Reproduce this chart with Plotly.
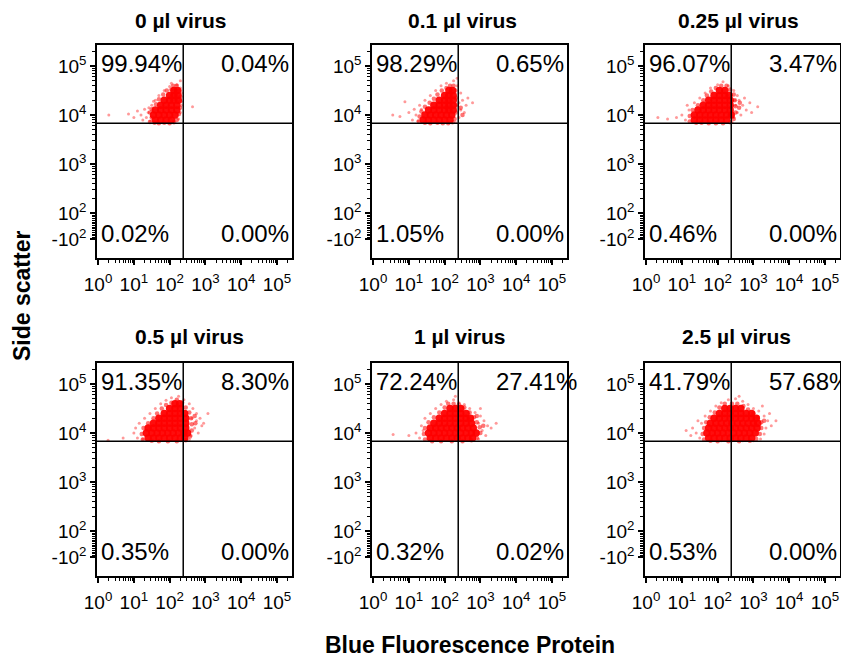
import plotly.graph_objects as go

# ---------------- data ----------------
PANEL_TITLES = ["0 µl virus", "0.1 µl virus", "0.25 µl virus",
                "0.5 µl virus", "1 µl virus", "2.5 µl virus"]

PCT_UL = ["99.94%", "98.29%", "96.07%", "91.35%", "72.24%", "41.79%"]
PCT_UR = ["0.04%", "0.65%", "3.47%", "8.30%", "27.41%", "57.68%"]
PCT_LL = ["0.02%", "1.05%", "0.46%", "0.35%", "0.32%", "0.53%"]
PCT_LR = ["0.00%", "0.00%", "0.00%", "0.00%", "0.02%", "0.00%"]

# quadrant gate (log10 units)
GATE_X_LOG = 2.38
GATE_Y_LOG = 3.83

X_TICK_EXP = [0, 1, 2, 3, 4, 5]
X_TICK_TEXT = ["10<sup>0</sup>", "10<sup>1</sup>", "10<sup>2</sup>",
               "10<sup>3</sup>", "10<sup>4</sup>", "10<sup>5</sup>"]
Y_TICK_EXP = [1.47, 2, 3, 4, 5]
Y_TICK_TEXT = ["-10<sup>2</sup>", "10<sup>2</sup>", "10<sup>3</sup>",
               "10<sup>4</sup>", "10<sup>5</sup>"]

# events: (log10 blue fluorescence, log10 side scatter)
P1_CORE = [(1.6, 3.9), (1.75, 3.9), (1.9, 3.9), (2.05, 3.9),
           (1.55, 4.0), (1.7, 4.0), (1.85, 4.0), (2.0, 4.0), (2.15, 4.0),
           (1.6, 4.1), (1.75, 4.1), (1.9, 4.1), (2.05, 4.1), (2.2, 4.1),
           (1.75, 4.2), (1.9, 4.2), (2.05, 4.2), (2.2, 4.2),
           (1.85, 4.3), (2.0, 4.3), (2.12, 4.3), (2.24, 4.3),
           (2.0, 4.4), (2.12, 4.4), (2.23, 4.4),
           (2.12, 4.5), (2.22, 4.5)]
P1_EDGE = [(1.45, 3.86), (1.5, 3.95), (1.45, 4.05), (1.5, 4.12), (1.62, 4.22),
           (1.7, 4.32), (1.82, 4.42), (1.92, 4.5), (2.05, 4.52), (2.1, 4.6),
           (2.2, 4.6), (2.28, 4.5), (2.3, 4.38), (2.3, 4.28), (2.29, 4.15),
           (2.26, 4.02), (2.2, 3.9), (2.12, 3.85), (2.0, 3.83), (1.85, 3.84),
           (1.7, 3.83), (1.58, 3.84)]
P1_HALO = [(1.35, 3.95), (1.4, 4.05), (1.3, 4.12), (1.45, 3.88), (1.5, 4.2),
           (1.6, 4.3), (1.7, 4.4), (1.85, 4.5), (2.0, 4.58), (2.2, 4.62),
           (2.3, 4.55), (2.33, 4.45), (2.33, 4.2), (2.3, 4.05), (2.25, 3.92),
           (2.1, 3.86), (1.95, 3.84), (1.8, 3.85), (1.65, 3.86), (1.2, 4.0),
           (1.1, 4.08), (0.85, 4.02), (0.3, 4.0), (1.25, 3.9), (2.05, 4.65),
           (2.3, 4.7), (2.64, 4.17), (1.55, 4.28), (1.42, 4.15), (1.0, 3.95)]

P2_CORE = [(1.4, 3.9), (1.55, 3.9), (1.7, 3.9), (1.85, 3.9), (2.0, 3.9), (2.15, 3.9),
           (1.45, 4.0), (1.6, 4.0), (1.75, 4.0), (1.9, 4.0), (2.05, 4.0), (2.2, 4.0),
           (1.55, 4.1), (1.7, 4.1), (1.85, 4.1), (2.0, 4.1), (2.12, 4.1), (2.24, 4.1),
           (1.7, 4.2), (1.85, 4.2), (2.0, 4.2), (2.12, 4.2), (2.24, 4.2),
           (1.85, 4.3), (2.0, 4.3), (2.12, 4.3), (2.24, 4.3),
           (2.0, 4.4), (2.12, 4.4), (2.24, 4.4),
           (2.12, 4.5), (2.22, 4.5)]
P2_EDGE = [(1.28, 3.87), (1.3, 3.97), (1.35, 4.07), (1.45, 4.17), (1.58, 4.25),
           (1.7, 4.33), (1.8, 4.42), (1.92, 4.5), (2.05, 4.55), (2.15, 4.6),
           (2.25, 4.6), (2.3, 4.5), (2.31, 4.35), (2.31, 4.2), (2.31, 4.05),
           (2.28, 3.92), (2.22, 3.85), (2.1, 3.83), (1.95, 3.83), (1.8, 3.84),
           (1.6, 3.83), (1.45, 3.84), (2.45, 4.15), (2.5, 4.0)]
P2_HALO = [(1.1, 3.9), (1.2, 4.0), (1.0, 4.05), (0.55, 4.0), (0.89, 4.27),
           (1.3, 4.2), (1.45, 4.3), (1.6, 4.4), (1.75, 4.5), (1.9, 4.6),
           (2.05, 4.65), (2.25, 4.7), (2.35, 4.6), (2.45, 4.45), (2.5, 4.3),
           (2.6, 4.2), (2.78, 4.25), (2.45, 4.1), (2.4, 3.95), (2.55, 4.05),
           (2.3, 3.85), (2.1, 3.85), (1.9, 3.84), (1.7, 3.85), (1.5, 3.85),
           (1.25, 3.88), (0.75, 3.97), (1.35, 4.12), (2.65, 4.35), (2.4, 4.25),
           (1.15, 4.12), (2.35, 4.75)]

P3_CORE = [(1.35, 3.9), (1.5, 3.9), (1.65, 3.9), (1.8, 3.9), (1.95, 3.9), (2.1, 3.9), (2.25, 3.9),
           (1.35, 4.0), (1.5, 4.0), (1.65, 4.0), (1.8, 4.0), (1.95, 4.0), (2.1, 4.0), (2.25, 4.0), (2.38, 4.0),
           (1.45, 4.1), (1.6, 4.1), (1.75, 4.1), (1.9, 4.1), (2.05, 4.1), (2.2, 4.1), (2.35, 4.1),
           (1.6, 4.2), (1.75, 4.2), (1.9, 4.2), (2.05, 4.2), (2.2, 4.2), (2.35, 4.2),
           (1.75, 4.3), (1.9, 4.3), (2.05, 4.3), (2.2, 4.3), (2.35, 4.3),
           (1.9, 4.4), (2.05, 4.4), (2.2, 4.4), (2.32, 4.4),
           (2.05, 4.5), (2.2, 4.5)]
P3_EDGE = [(1.22, 3.87), (1.22, 3.98), (1.3, 4.1), (1.45, 4.2), (1.6, 4.3),
           (1.7, 4.4), (1.82, 4.48), (1.95, 4.55), (2.1, 4.6), (2.25, 4.6),
           (2.35, 4.52), (2.45, 4.42), (2.48, 4.3), (2.5, 4.18), (2.5, 4.05),
           (2.45, 3.92), (2.35, 3.85), (2.15, 3.83), (1.95, 3.83), (1.75, 3.83),
           (1.55, 3.84), (1.4, 3.84), (2.6, 4.15), (2.62, 4.25)]
P3_HALO = [(1.1, 3.9), (1.0, 4.0), (0.85, 3.95), (0.33, 3.95), (0.6, 3.92),
           (1.2, 4.1), (1.35, 4.25), (1.5, 4.35), (1.65, 4.45), (1.8, 4.55),
           (2.0, 4.62), (2.15, 4.68), (2.3, 4.6), (2.45, 4.5), (2.55, 4.4),
           (2.6, 4.3), (2.7, 4.2), (2.8, 4.1), (3.12, 4.17), (2.9, 4.25),
           (2.5, 4.2), (2.55, 4.05), (2.45, 3.95), (2.65, 4.0), (2.4, 3.85),
           (2.2, 3.84), (2.0, 3.84), (1.75, 3.85), (1.5, 3.85), (1.3, 3.86),
           (2.75, 4.35), (2.48, 4.3), (2.95, 4.05), (1.15, 4.2)]

P4_CORE = [(1.4, 3.9), (1.55, 3.9), (1.7, 3.9), (1.85, 3.9), (2.0, 3.9), (2.15, 3.9), (2.3, 3.9), (2.42, 3.9),
           (1.35, 4.0), (1.5, 4.0), (1.65, 4.0), (1.8, 4.0), (1.95, 4.0), (2.1, 4.0), (2.25, 4.0), (2.4, 4.0), (2.5, 4.0),
           (1.4, 4.1), (1.55, 4.1), (1.7, 4.1), (1.85, 4.1), (2.0, 4.1), (2.15, 4.1), (2.3, 4.1), (2.45, 4.1),
           (1.55, 4.2), (1.7, 4.2), (1.85, 4.2), (2.0, 4.2), (2.15, 4.2), (2.3, 4.2), (2.45, 4.2),
           (1.7, 4.3), (1.85, 4.3), (2.0, 4.3), (2.15, 4.3), (2.3, 4.3), (2.45, 4.3),
           (1.85, 4.4), (2.0, 4.4), (2.15, 4.4), (2.3, 4.4), (2.42, 4.4),
           (2.0, 4.5), (2.15, 4.5), (2.3, 4.5),
           (2.15, 4.6), (2.28, 4.6)]
P4_EDGE = [(1.25, 3.87), (1.22, 3.98), (1.27, 4.1), (1.4, 4.2), (1.55, 4.3),
           (1.65, 4.4), (1.78, 4.5), (1.9, 4.57), (2.05, 4.62), (2.2, 4.68),
           (2.35, 4.62), (2.45, 4.52), (2.55, 4.42), (2.6, 4.3), (2.62, 4.18),
           (2.62, 4.05), (2.57, 3.93), (2.45, 3.85), (2.2, 3.83), (1.95, 3.83),
           (1.7, 3.83), (1.5, 3.84), (2.72, 4.2), (2.7, 4.35)]
P4_HALO = [(1.1, 3.9), (1.0, 4.0), (0.28, 3.85), (0.7, 3.9), (1.15, 4.2),
           (1.3, 4.3), (1.45, 4.4), (1.6, 4.5), (1.75, 4.6), (1.9, 4.67),
           (2.05, 4.72), (2.25, 4.75), (2.4, 4.68), (2.55, 4.6), (2.65, 4.5),
           (2.75, 4.4), (2.85, 4.3), (3.07, 4.4), (2.9, 4.15), (2.7, 4.1),
           (2.75, 4.25), (2.6, 3.95), (2.8, 4.0), (2.55, 3.87), (2.3, 3.84),
           (2.0, 3.84), (1.7, 3.84), (1.45, 3.85), (1.25, 3.88), (2.95, 4.2),
           (2.62, 4.3), (1.05, 4.1)]

P5_CORE = [(1.6, 3.9), (1.75, 3.9), (1.9, 3.9), (2.05, 3.9), (2.2, 3.9), (2.35, 3.9), (2.5, 3.9), (2.65, 3.9), (2.78, 3.9),
           (1.55, 4.0), (1.7, 4.0), (1.85, 4.0), (2.0, 4.0), (2.15, 4.0), (2.3, 4.0), (2.45, 4.0), (2.6, 4.0), (2.75, 4.0), (2.88, 4.0),
           (1.6, 4.1), (1.75, 4.1), (1.9, 4.1), (2.05, 4.1), (2.2, 4.1), (2.35, 4.1), (2.5, 4.1), (2.65, 4.1), (2.8, 4.1),
           (1.7, 4.2), (1.85, 4.2), (2.0, 4.2), (2.15, 4.2), (2.3, 4.2), (2.45, 4.2), (2.6, 4.2), (2.75, 4.2),
           (1.85, 4.3), (2.0, 4.3), (2.15, 4.3), (2.3, 4.3), (2.45, 4.3), (2.6, 4.3), (2.72, 4.3),
           (2.0, 4.4), (2.15, 4.4), (2.3, 4.4), (2.45, 4.4), (2.6, 4.4),
           (2.15, 4.5), (2.3, 4.5), (2.45, 4.5)]
P5_EDGE = [(1.45, 3.87), (1.42, 3.98), (1.45, 4.1), (1.55, 4.22), (1.7, 4.32),
           (1.85, 4.42), (2.0, 4.52), (2.1, 4.6), (2.25, 4.6), (2.4, 4.58),
           (2.55, 4.52), (2.7, 4.42), (2.82, 4.32), (2.9, 4.22), (2.98, 4.12),
           (3.0, 4.0), (2.9, 3.9), (2.75, 3.85), (2.5, 3.83), (2.2, 3.83),
           (1.9, 3.83), (1.65, 3.83), (3.08, 4.15), (2.9, 4.35)]
P5_HALO = [(1.3, 3.9), (1.2, 4.0), (0.56, 3.97), (1.0, 3.95), (1.35, 4.15),
           (1.45, 4.3), (1.6, 4.4), (1.75, 4.5), (1.9, 4.58), (2.05, 4.65),
           (2.25, 4.68), (2.4, 4.62), (2.55, 4.58), (2.7, 4.5), (2.85, 4.42),
           (3.0, 4.35), (3.1, 4.25), (3.2, 4.15), (3.44, 4.2), (3.05, 4.05),
           (3.15, 3.95), (2.95, 3.88), (2.75, 3.85), (2.5, 3.84), (2.2, 3.84),
           (1.9, 3.84), (1.6, 3.85), (3.3, 4.1), (2.95, 4.2), (3.0, 4.5),
           (1.4, 4.05), (2.3, 4.75)]

P6_CORE = [(1.75, 3.9), (1.9, 3.9), (2.05, 3.9), (2.2, 3.9), (2.35, 3.9), (2.5, 3.9), (2.65, 3.9), (2.8, 3.9), (2.95, 3.9),
           (1.7, 4.0), (1.85, 4.0), (2.0, 4.0), (2.15, 4.0), (2.3, 4.0), (2.45, 4.0), (2.6, 4.0), (2.75, 4.0), (2.9, 4.0), (3.05, 4.0),
           (1.75, 4.1), (1.9, 4.1), (2.05, 4.1), (2.2, 4.1), (2.35, 4.1), (2.5, 4.1), (2.65, 4.1), (2.8, 4.1), (2.95, 4.1), (3.1, 4.1),
           (1.8, 4.2), (1.95, 4.2), (2.1, 4.2), (2.25, 4.2), (2.4, 4.2), (2.55, 4.2), (2.7, 4.2), (2.85, 4.2), (3.0, 4.2), (3.12, 4.2),
           (1.9, 4.3), (2.05, 4.3), (2.2, 4.3), (2.35, 4.3), (2.5, 4.3), (2.65, 4.3), (2.8, 4.3), (2.95, 4.3), (3.08, 4.3),
           (2.05, 4.4), (2.2, 4.4), (2.35, 4.4), (2.5, 4.4), (2.65, 4.4), (2.8, 4.4), (2.95, 4.4),
           (2.2, 4.5), (2.35, 4.5), (2.5, 4.5), (2.65, 4.5)]
P6_EDGE = [(1.62, 3.87), (1.58, 3.98), (1.62, 4.1), (1.68, 4.22), (1.78, 4.32),
           (1.92, 4.42), (2.05, 4.52), (2.2, 4.6), (2.4, 4.6), (2.55, 4.6),
           (2.72, 4.55), (2.85, 4.48), (3.0, 4.4), (3.12, 4.32), (3.22, 4.22),
           (3.22, 4.1), (3.18, 3.98), (3.08, 3.88), (2.9, 3.84), (2.6, 3.83),
           (2.3, 3.83), (2.0, 3.83), (1.8, 3.84), (3.3, 4.25)]
P6_HALO = [(1.5, 3.9), (1.4, 4.0), (1.12, 4.05), (1.3, 4.1), (1.55, 4.2),
           (1.65, 4.35), (1.8, 4.45), (1.95, 4.55), (2.1, 4.62), (2.3, 4.68),
           (2.5, 4.7), (2.7, 4.65), (2.85, 4.58), (3.0, 4.5), (3.15, 4.45),
           (3.3, 4.35), (3.4, 4.25), (3.63, 4.25), (3.35, 4.1), (3.3, 3.98),
           (3.2, 3.88), (3.0, 3.84), (2.7, 3.84), (2.4, 3.84), (2.1, 3.84),
           (1.85, 3.85), (3.5, 4.15), (3.25, 4.55), (2.6, 4.75), (1.25, 3.95),
           (3.45, 4.4), (1.45, 4.25)]

CORES = [P1_CORE, P2_CORE, P3_CORE, P4_CORE, P5_CORE, P6_CORE]
EDGES = [P1_EDGE, P2_EDGE, P3_EDGE, P4_EDGE, P5_EDGE, P6_EDGE]
HALOS = [P1_HALO, P2_HALO, P3_HALO, P4_HALO, P5_HALO, P6_HALO]

# ---------------- layout geometry (window pixels) ----------------
WIN_W, WIN_H = 849, 664
PAGE_MARGIN = 8            # default body margin of the html page
W, H = WIN_W - PAGE_MARGIN, WIN_H - PAGE_MARGIN
COL_LEFT = [97, 372, 645]
ROW_TOP = [45, 363]
PW, PH = 195, 213
TITLE_CX = [180, 463, 738, 189, 460, 736]
TITLE_CY = [20.5, 336]


def px(x):
    return (x - PAGE_MARGIN) / W


def py(y):
    return 1 - (y - PAGE_MARGIN) / H


FONT = "Liberation Sans, Arial, Helvetica, sans-serif"
X_RANGE = [-0.03, 5.42]
Y_RANGE = [1.08, 5.43]

fig = go.Figure()

x_minor = [m * 10 ** d for d in range(0, 5) for m in range(2, 10)] + [2e5]
y_minor = ([m * 10 ** d for d in range(2, 5) for m in range(2, 10)] + [2e5] +
           [10 ** (1.50 + 0.035 * k) for k in range(14)])


def layer(points, xa, ya, size, color):
    return go.Scatter(
        x=[10 ** p[0] for p in points], y=[10 ** p[1] for p in points],
        mode="markers", xaxis=xa, yaxis=ya, showlegend=False, hoverinfo="skip",
        marker=dict(size=size, color=color, line=dict(width=0)))


for i in range(6):
    r, c = divmod(i, 3)
    left = COL_LEFT[c]
    top = ROW_TOP[r]
    xd = [px(left), px(left + PW)]
    yd = [py(top + PH), py(top)]
    n = "" if i == 0 else str(i + 1)
    xa, ya = "x" + n, "y" + n

    fig.add_trace(layer(HALOS[i], xa, ya, 3, "rgba(255,0,0,0.4)"))
    fig.add_trace(layer(EDGES[i], xa, ya, 4.5, "rgba(255,0,0,0.55)"))
    fig.add_trace(layer(CORES[i], xa, ya, 7.5, "rgba(255,0,0,0.95)"))

    axis_common = dict(
        type="log", showline=True, mirror=True, linecolor="black", linewidth=1.5,
        ticks="outside", ticklen=5, tickwidth=1.5, tickcolor="black",
        showgrid=False, zeroline=False, fixedrange=True, automargin=False,
        tickfont=dict(family=FONT, size=19, color="black"),
    )
    fig.layout["xaxis" + n] = dict(
        axis_common, domain=xd, anchor=ya, range=X_RANGE,
        tickmode="array", tickvals=[10 ** e for e in X_TICK_EXP], ticktext=X_TICK_TEXT,
        ticklabelstandoff=3,
        minor=dict(tickmode="array", tickvals=x_minor, ticks="outside",
                   ticklen=3, tickwidth=1.2, tickcolor="black", showgrid=False),
    )
    fig.layout["yaxis" + n] = dict(
        axis_common, domain=yd, anchor=xa, range=Y_RANGE,
        tickmode="array", tickvals=[10 ** e for e in Y_TICK_EXP], ticktext=Y_TICK_TEXT,
        minor=dict(tickmode="array", tickvals=y_minor, ticks="outside",
                   ticklen=3, tickwidth=1.2, tickcolor="black", showgrid=False),
    )

    # quadrant gate lines
    fig.add_shape(type="line", xref=xa, yref=ya + " domain",
                  x0=10 ** GATE_X_LOG, x1=10 ** GATE_X_LOG, y0=0, y1=1,
                  line=dict(color="black", width=1.5))
    fig.add_shape(type="line", xref=xa + " domain", yref=ya,
                  x0=0, x1=1, y0=10 ** GATE_Y_LOG, y1=10 ** GATE_Y_LOG,
                  line=dict(color="black", width=1.5))

    pct_font = dict(family=FONT, size=24, color="black")
    for txt, ax_, ay_ in [(PCT_UL[i], 0.012, 0.915), (PCT_UR[i], 0.625, 0.915),
                          (PCT_LL[i], 0.012, 0.113), (PCT_LR[i], 0.625, 0.113)]:
        fig.add_annotation(text=txt, xref=xa + " domain", yref=ya + " domain",
                           x=ax_, y=ay_, xanchor="left", yanchor="middle",
                           showarrow=False, font=pct_font)

    fig.add_annotation(text="<b>%s</b>" % PANEL_TITLES[i], xref="paper", yref="paper",
                       x=px(TITLE_CX[i]), y=py(TITLE_CY[r]), borderpad=0,
                       xanchor="center", yanchor="middle", showarrow=False,
                       font=dict(family=FONT, size=21, color="black"))

fig.add_annotation(text="<b>Side scatter</b>", xref="paper", yref="paper",
                   x=px(22), y=py(296), textangle=-90,
                   xanchor="center", yanchor="middle", showarrow=False,
                   font=dict(family=FONT, size=23, color="black"))
fig.add_annotation(text="<b>Blue Fluorescence Protein</b>", xref="paper", yref="paper",
                   x=px(470), y=py(645),
                   xanchor="center", yanchor="middle", showarrow=False,
                   font=dict(family=FONT, size=23, color="black"))

fig.update_layout(width=W, height=H, margin=dict(l=0, r=0, t=0, b=0),
                  template="none",
                  paper_bgcolor="white", plot_bgcolor="white", showlegend=False)

fig.write_html("out.html")
